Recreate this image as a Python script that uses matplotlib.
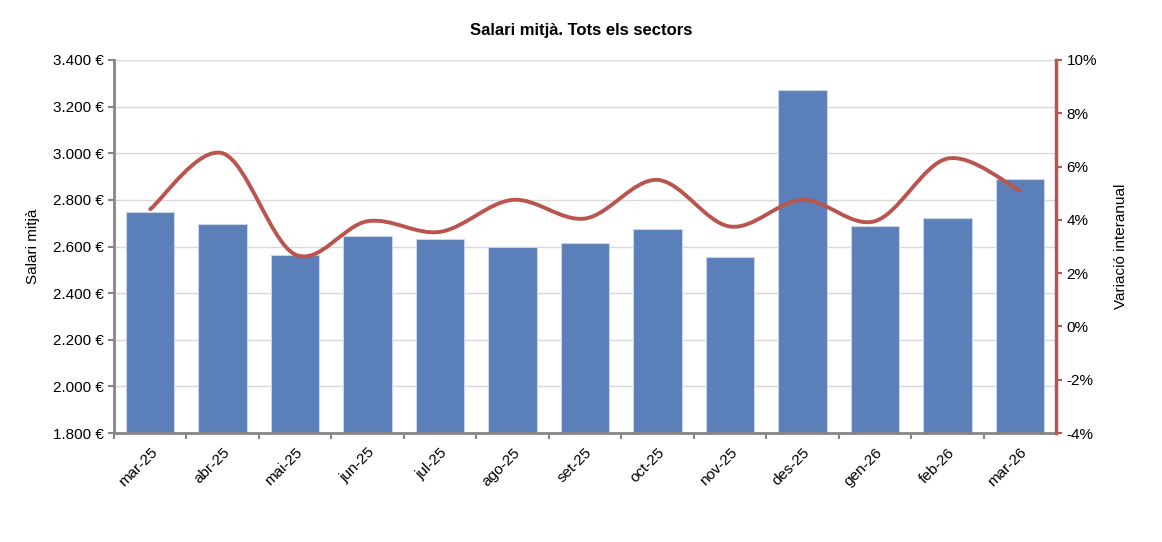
import matplotlib
matplotlib.use('Agg')
import matplotlib.pyplot as plt
from matplotlib.path import Path
from matplotlib.patches import PathPatch
from matplotlib.ticker import FuncFormatter, FixedLocator

plt.rcParams['font.family'] = ['Liberation Sans', 'DejaVu Sans']

##########################
# Dades
mesos = ['mar-25', 'abr-25', 'mai-25', 'jun-25', 'jul-25', 'ago-25', 'set-25',
         'oct-25', 'nov-25', 'des-25', 'gen-26', 'feb-26', 'mar-26']
salari = [2750, 2697, 2565, 2645, 2633, 2597, 2617, 2676, 2553, 3272, 2688, 2722, 2890]
variacio = [4.4, 6.5, 2.7, 3.95, 3.55, 4.75, 4.05, 5.5, 3.75, 4.75, 3.95, 6.3, 5.1]
##########################

color_barra = '#5B7FB8'
color_linia = '#B9544F'
color_eix = '#868686'


def euro(v, pos):
    return f'{int(v):,}'.replace(',', '.') + ' €'


def pct(v, pos):
    return f'{int(round(v))}%'


# corba suavitzada estil Excel (Catmull-Rom -> Bezier)
def corba(x, y):
    n = len(x)
    verts = [(x[0], y[0])]
    codes = [Path.MOVETO]
    for i in range(n - 1):
        x0, y0 = (x[i - 1], y[i - 1]) if i > 0 else (x[i], y[i])
        x3, y3 = (x[i + 2], y[i + 2]) if i + 2 < n else (x[i + 1], y[i + 1])
        c1 = (x[i] + (x[i + 1] - x0) / 6, y[i] + (y[i + 1] - y0) / 6)
        c2 = (x[i + 1] - (x3 - x[i]) / 6, y[i + 1] - (y3 - y[i]) / 6)
        verts += [c1, c2, (x[i + 1], y[i + 1])]
        codes += [Path.CURVE4, Path.CURVE4, Path.CURVE4]
    return Path(verts, codes)


fig = plt.figure(figsize=(11.62, 5.42), dpi=100)
ax = fig.add_axes([0.0981, 0.2011, 0.8107, 0.6882])

pos = list(range(len(mesos)))
ax.bar(pos, salari, width=0.67, color=color_barra, edgecolor='#C9D6EA',
       linewidth=0.8, zorder=2)
ax.set_xlim(-0.5, len(mesos) - 0.5)
ax.set_ylim(1800, 3400)
ax.set_yticks(range(1800, 3401, 200))
ax.yaxis.set_major_formatter(FuncFormatter(euro))
ax.grid(axis='y', color='#D9D9D9', linewidth=1, zorder=0)
ax.set_axisbelow(True)

ax.set_xticks(pos)
ax.set_xticklabels(mesos, rotation=45, ha='right', rotation_mode='anchor')
ax.xaxis.set_minor_locator(FixedLocator([p + 0.5 for p in pos[:-1]] + [-0.5]))
ax.tick_params(axis='x', which='major', length=0, pad=9, labelsize=11)
ax.tick_params(axis='x', which='minor', length=4, color=color_eix, width=1.5)
ax.tick_params(axis='y', length=4, color=color_eix, width=1.5, labelsize=11)
for s in ['top', 'right']:
    ax.spines[s].set_visible(False)
ax.spines['left'].set_color(color_eix)
ax.spines['left'].set_linewidth(2)
ax.spines['bottom'].set_color(color_eix)
ax.spines['bottom'].set_linewidth(2)
ax.set_ylabel('Salari mitjà', fontsize=11, labelpad=9)

ax2 = ax.twinx()
ax2.set_ylim(-4, 10)
ax2.set_yticks(range(-4, 11, 2))
ax2.yaxis.set_major_formatter(FuncFormatter(pct))
ax2.add_patch(PathPatch(corba(pos, variacio), facecolor='none',
                        edgecolor=color_linia, linewidth=2.8, zorder=3,
                        capstyle='round'))
for s in ['top', 'left', 'bottom']:
    ax2.spines[s].set_visible(False)
ax2.spines['right'].set_color(color_linia)
ax2.spines['right'].set_linewidth(2.5)
ax2.tick_params(axis='y', length=4, color=color_linia, width=1.5, labelsize=11)
ax2.set_ylabel('Variació interanual', fontsize=11, labelpad=12)

fig.suptitle('Salari mitjà. Tots els sectors', fontsize=12, fontweight='bold',
             y=0.958)

plt.savefig('out.png', dpi=100)
